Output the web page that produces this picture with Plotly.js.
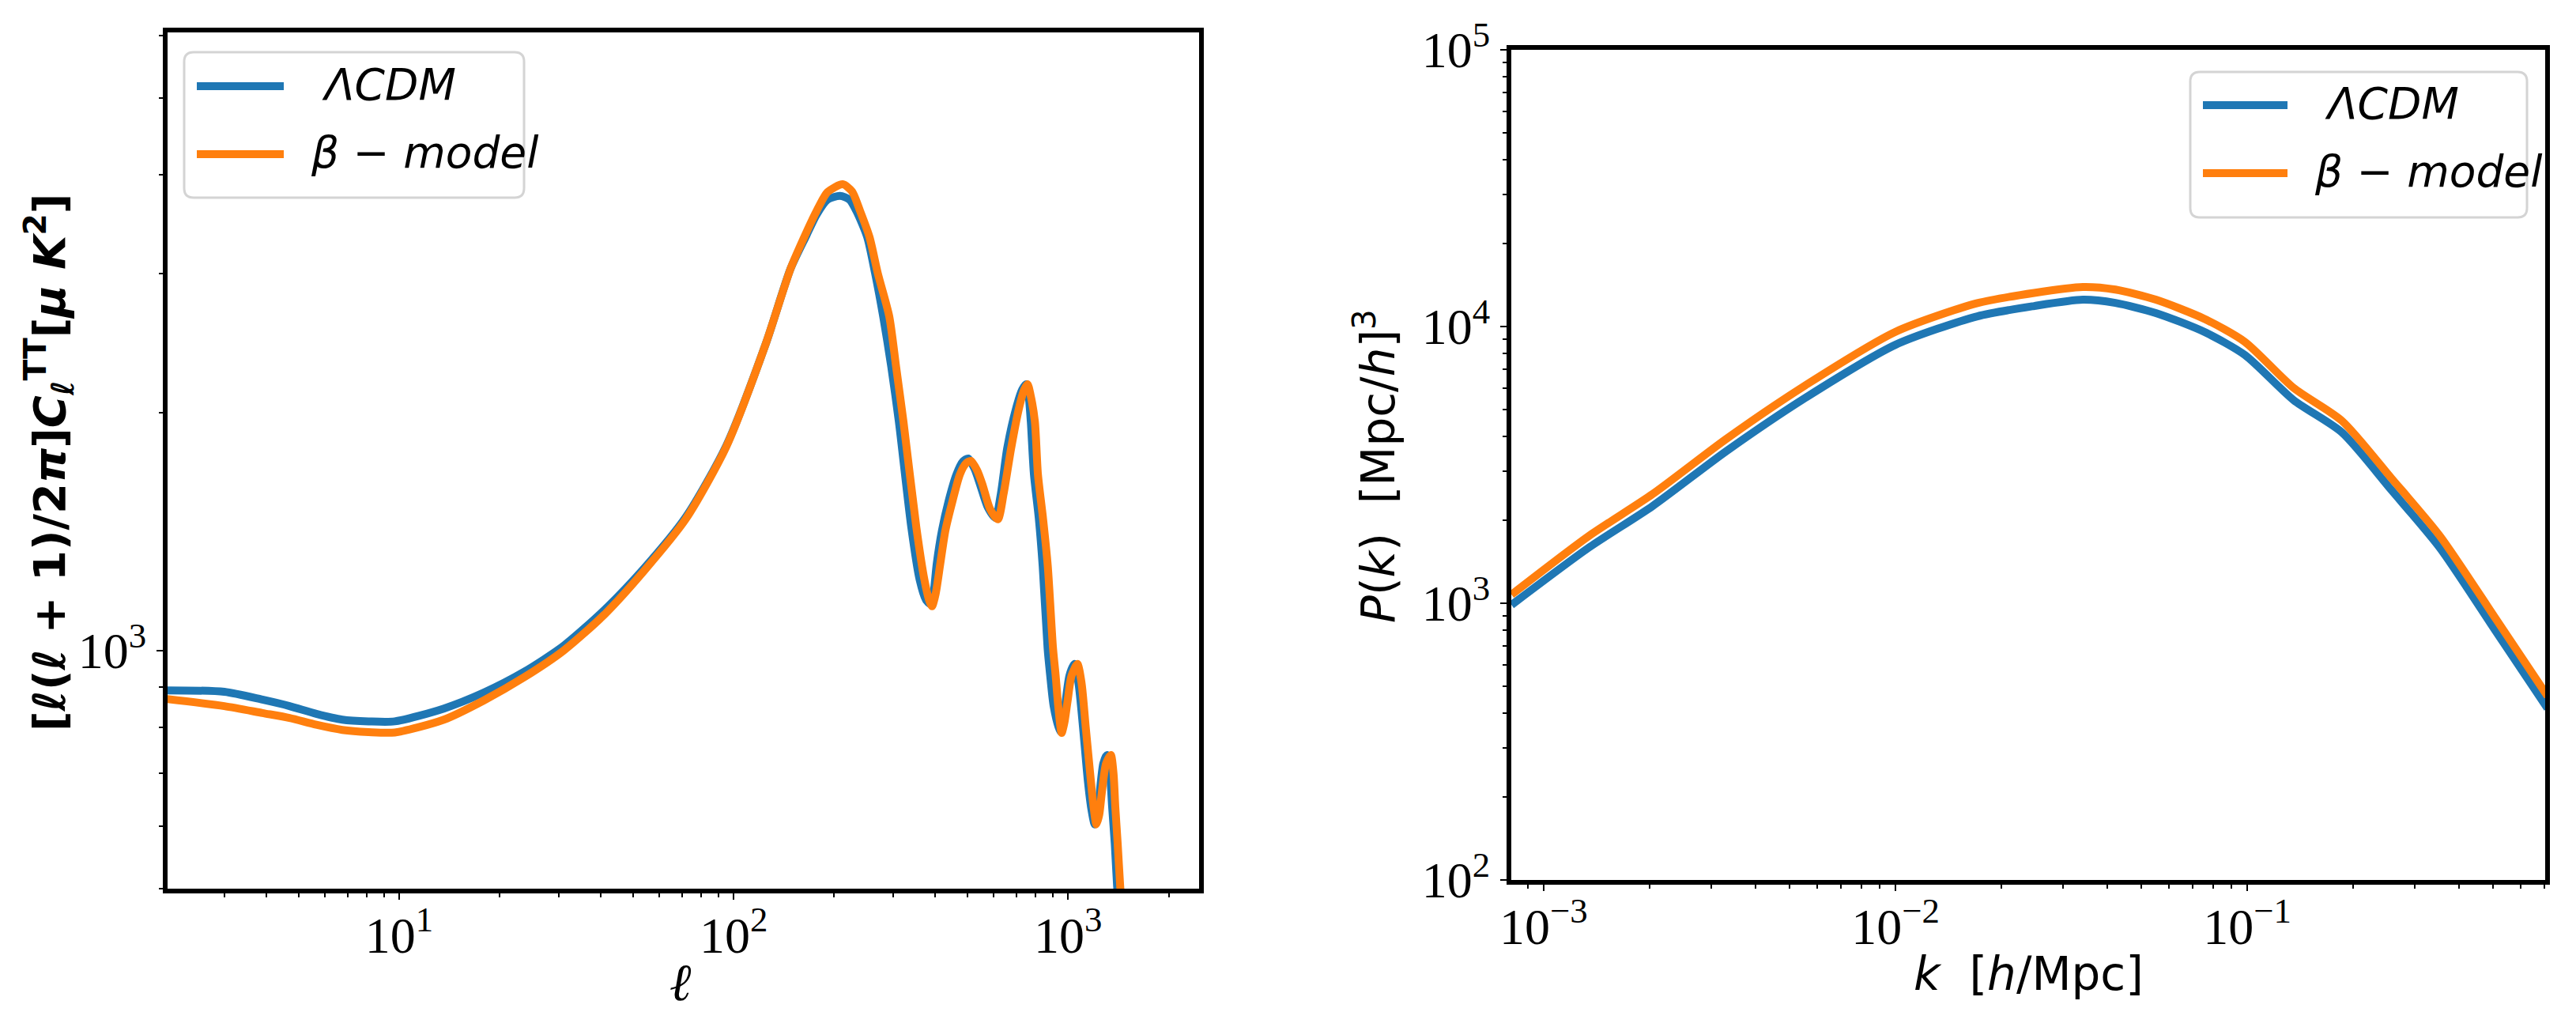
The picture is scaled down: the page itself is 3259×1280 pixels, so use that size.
<!DOCTYPE html>
<html>
<head>
<meta charset="utf-8">
<script src="https://cdn.plot.ly/plotly-3.0.1.min.js"></script>
<style>
  body { margin: 0; background: #fff; }
  #chart { width: 3259px; height: 1280px; }
</style>
</head>
<body>
<div id="chart"></div>
<script>
// ---- CMB TT spectrum (left panel) ----
var ellL = [2, 3, 3.9, 4.7, 5.65, 6.76, 8.1, 9.7, 13.6, 17.9, 23.6, 31, 41, 54, 72, 95, 125, 148, 165, 177, 191, 208,
            222, 233, 251, 265, 280, 296, 312, 340, 360, 376, 388, 396, 405, 420, 440, 464, 485, 503, 525, 547, 575, 607,
            630, 658, 699, 730, 750, 762, 774, 791, 818, 840, 869, 884, 906, 946, 965, 984, 1010, 1045, 1075, 1109,
            1146, 1175, 1202, 1225, 1244, 1275, 1307, 1335, 1355, 1380, 1402, 1440];
var clL = [891, 887, 867, 851, 832, 818, 814, 814, 845, 885, 940, 1014, 1125, 1271, 1476, 1815, 2449, 3041, 3350, 3560, 3720, 3760,
           3720, 3597, 3334, 3000, 2649, 2290, 1950, 1432, 1230, 1160, 1145, 1180, 1288, 1420, 1549, 1671, 1735, 1750, 1700, 1618, 1520, 1472,
           1580, 1803, 2023, 2140, 2173, 2110, 1950, 1671, 1470, 1280, 1007, 933, 851, 790, 810, 863, 930, 962, 910, 800,
           686, 630, 603, 620, 661, 720, 738, 700, 635, 570, 505, 430];

var ellB = [2, 3, 3.9, 4.7, 5.65, 6.76, 8.1, 9.7, 13.6, 17.9, 23.6, 31, 41, 54, 72, 95, 125, 148, 165, 177, 191, 212,
            226, 239, 255, 270, 292, 306, 322, 352, 372, 384, 392, 402, 415, 430, 452, 475, 495, 512, 535, 556, 585, 617,
            642, 676, 713, 740, 757, 772, 796, 813, 842, 870, 902, 918, 935, 957, 975, 997, 1025, 1067, 1098, 1130,
            1170, 1195, 1216, 1240, 1262, 1300, 1343, 1368, 1385, 1408, 1432, 1470];
var clB = [869, 851, 834, 822, 806, 794, 789, 788, 818, 865, 925, 1000, 1110, 1262, 1468, 1810, 2449, 3041, 3380, 3597, 3802, 3890,
           3810, 3597, 3334, 3000, 2649, 2290, 1950, 1432, 1230, 1160, 1138, 1180, 1288, 1420, 1549, 1671, 1725, 1738, 1690, 1618, 1510, 1466,
           1580, 1803, 2023, 2140, 2173, 2110, 1950, 1671, 1470, 1280, 1007, 933, 851, 787, 810, 863, 930, 962, 910, 800,
           686, 630, 603, 620, 661, 720, 738, 700, 635, 570, 505, 430];

// ---- matter power spectrum (right panel) ----
var kVals = [8.1e-4, 1.34e-3, 2.04e-3, 3.3e-3, 5.6e-3, 0.01, 0.0171, 0.0248, 0.0341, 0.0422, 0.055, 0.0757,
             0.0985, 0.1355, 0.186, 0.257, 0.353, 0.51, 0.714];
var pkL = [986, 1585, 2245, 3540, 5570, 8590, 10890, 11860, 12500, 12170, 11190, 9550,
           7890, 5420, 4140, 2565, 1585, 789, 417];
var pkB = [1074, 1745, 2480, 3920, 6180, 9570, 12150, 13230, 13900, 13600, 12500, 10650,
           8800, 6000, 4560, 2830, 1750, 875, 462];

var seriesNames = ["\u039bCDM", "\u03b2 \u2212 model"];
var seriesColors = ["#1f77b4", "#ff7f0e"];

// tick labels
var ellTicks = [10, 100, 1000];
var ellTickText = ["10<sup>1</sup>", "10<sup>2</sup>", "10<sup>3</sup>"];
var clTicks = [1000];
var clTickText = ["10<sup>3</sup>"];
var kTicks = [0.001, 0.01, 0.1];
var kTickText = ["10<sup>\u22123</sup>", "10<sup>\u22122</sup>", "10<sup>\u22121</sup>"];
var pkTicks = [100, 1000, 10000, 100000];
var pkTickText = ["10<sup>2</sup>", "10<sup>3</sup>", "10<sup>4</sup>", "10<sup>5</sup>"];

// figure size and pixel helpers
var W = 3259, H = 1280;
function px(x) { return x / W; }
function py(y) { return 1 - y / H; }

// minor ticks on a log axis between two decades
function minorTicks(lo, hi) {
    var out = [];
    for (var e = lo; e < hi; e++) {
        for (var m = 2; m <= 9; m++) out.push(m * Math.pow(10, e));
    }
    return out;
}

function logAxis(domain, range, vals, text, minor, standoff) {
    return {
        type: "log",
        domain: domain,
        range: range,
        tickmode: "array",
        tickvals: vals,
        ticktext: text,
        ticks: "outside",
        ticklen: 8,
        tickwidth: 2.5,
        tickcolor: "#000",
        ticklabelstandoff: standoff,
        showline: true,
        linewidth: 6,
        linecolor: "#000",
        mirror: true,
        showgrid: false,
        zeroline: false,
        tickfont: { family: "Liberation Serif, serif", size: 64, color: "#000" },
        minor: { tickmode: "array", tickvals: minor, ticks: "outside", ticklen: 5, tickwidth: 2, tickcolor: "#000", showgrid: false }
    };
}

function curve(x, y, ax, i) {
    return { x: x, y: y, xaxis: ax[0], yaxis: ax[1], name: seriesNames[i], mode: "lines",
             line: { color: seriesColors[i], width: 10, shape: "spline", smoothing: 0.7 } };
}

var data = [
    curve(ellL, clL, ["x", "y"], 0),
    curve(ellB, clB, ["x", "y"], 1),
    curve(kVals, pkL, ["x2", "y2"], 0),
    curve(kVals, pkB, ["x2", "y2"], 1)
];

// rounded legend frame as a path in paper coords
function roundBox(x0, y0, x1, y1, r) {
    var p = function (x, y) { return px(x) + "," + py(y); };
    return "M" + p(x0 + r, y0) + " L" + p(x1 - r, y0) + " Q" + p(x1, y0) + " " + p(x1, y0 + r) +
           " L" + p(x1, y1 - r) + " Q" + p(x1, y1) + " " + p(x1 - r, y1) +
           " L" + p(x0 + r, y1) + " Q" + p(x0, y1) + " " + p(x0, y1 - r) +
           " L" + p(x0, y0 + r) + " Q" + p(x0, y0) + " " + p(x0 + r, y0) + " Z";
}

var shapes = [];
var annotations = [];

function addLegend(box, lineX0, lineX1, rowsY, textX) {
    shapes.push({ type: "path", xref: "paper", yref: "paper", path: roundBox(box[0], box[1], box[2], box[3], 12),
                  line: { color: "#d4d4d4", width: 3 }, fillcolor: "rgba(255,255,255,0.8)" });
    for (var i = 0; i < 2; i++) {
        shapes.push({ type: "line", xref: "paper", yref: "paper",
                      x0: px(lineX0), x1: px(lineX1), y0: py(rowsY[i]), y1: py(rowsY[i]),
                      line: { color: seriesColors[i], width: 10 } });
        annotations.push({ xref: "paper", yref: "paper", x: px(textX[i]), y: py(rowsY[i] - 2),
                           xanchor: "left", yanchor: "middle", showarrow: false,
                           text: "<i>" + seriesNames[i] + "</i>",
                           font: { family: "DejaVu Sans, sans-serif", size: 55, color: "#000" } });
    }
}

addLegend([233, 66, 663, 250], 249, 359, [109, 195], [405, 391]);
addLegend([2771, 91, 3197, 275], 2787, 2894, [133, 219], [2939, 2926]);

// axis titles
annotations.push({ xref: "paper", yref: "paper", x: px(62), y: py(585), textangle: -90,
    xanchor: "center", yanchor: "middle", showarrow: false,
    text: "<b>[<i>\u2113</i>(<i>\u2113</i> + 1)/2<i>\u03c0</i>]<i>C</i><sub><i>\u2113</i></sub><sup>TT</sup>[<i>\u03bc K</i><sup>2</sup>]</b>",
    font: { family: "DejaVu Sans, sans-serif", size: 56, color: "#000" } });
annotations.push({ xref: "paper", yref: "paper", x: px(862), y: py(1242),
    xanchor: "center", yanchor: "middle", showarrow: false,
    text: "<b><i>\u2113</i></b>",
    font: { family: "DejaVu Serif, serif", size: 66, color: "#000" } });
annotations.push({ xref: "paper", yref: "paper", x: px(1740), y: py(590), textangle: -90,
    xanchor: "center", yanchor: "middle", showarrow: false,
    text: "<i>P</i>(<i>k</i>)  [Mpc/<i>h</i>]<sup>3</sup>",
    font: { family: "DejaVu Sans, sans-serif", size: 58, color: "#000" } });
annotations.push({ xref: "paper", yref: "paper", x: px(2566), y: py(1232),
    xanchor: "center", yanchor: "middle", showarrow: false,
    text: "<i>k</i>  [<i>h</i>/Mpc]",
    font: { family: "DejaVu Sans, sans-serif", size: 58, color: "#000" } });

var layout = {
    width: W,
    height: H,
    margin: { l: 0, r: 0, t: 0, b: 0 },
    paper_bgcolor: "#fff",
    plot_bgcolor: "#fff",
    showlegend: false,
    xaxis: logAxis([px(212), px(1517)], [0.3073, 3.392], ellTicks, ellTickText, minorTicks(0, 4), -10),
    yaxis: logAxis([py(1124), py(41)], [2.699, 3.782], clTicks, clTickText, minorTicks(2, 4), 0),
    xaxis2: logAxis([px(1912), px(3220)], [-3.092, -0.153], kTicks, kTickText, minorTicks(-4, 0), -10),
    yaxis2: logAxis([py(1113), py(63)], [2, 5], pkTicks, pkTickText, minorTicks(2, 5), 0),
    shapes: shapes,
    annotations: annotations
};
layout.xaxis.anchor = "y";
layout.yaxis.anchor = "x";
layout.xaxis2.anchor = "y2";
layout.yaxis2.anchor = "x2";

Plotly.newPlot("chart", data, layout, { staticPlot: true });
</script>
</body>
</html>
